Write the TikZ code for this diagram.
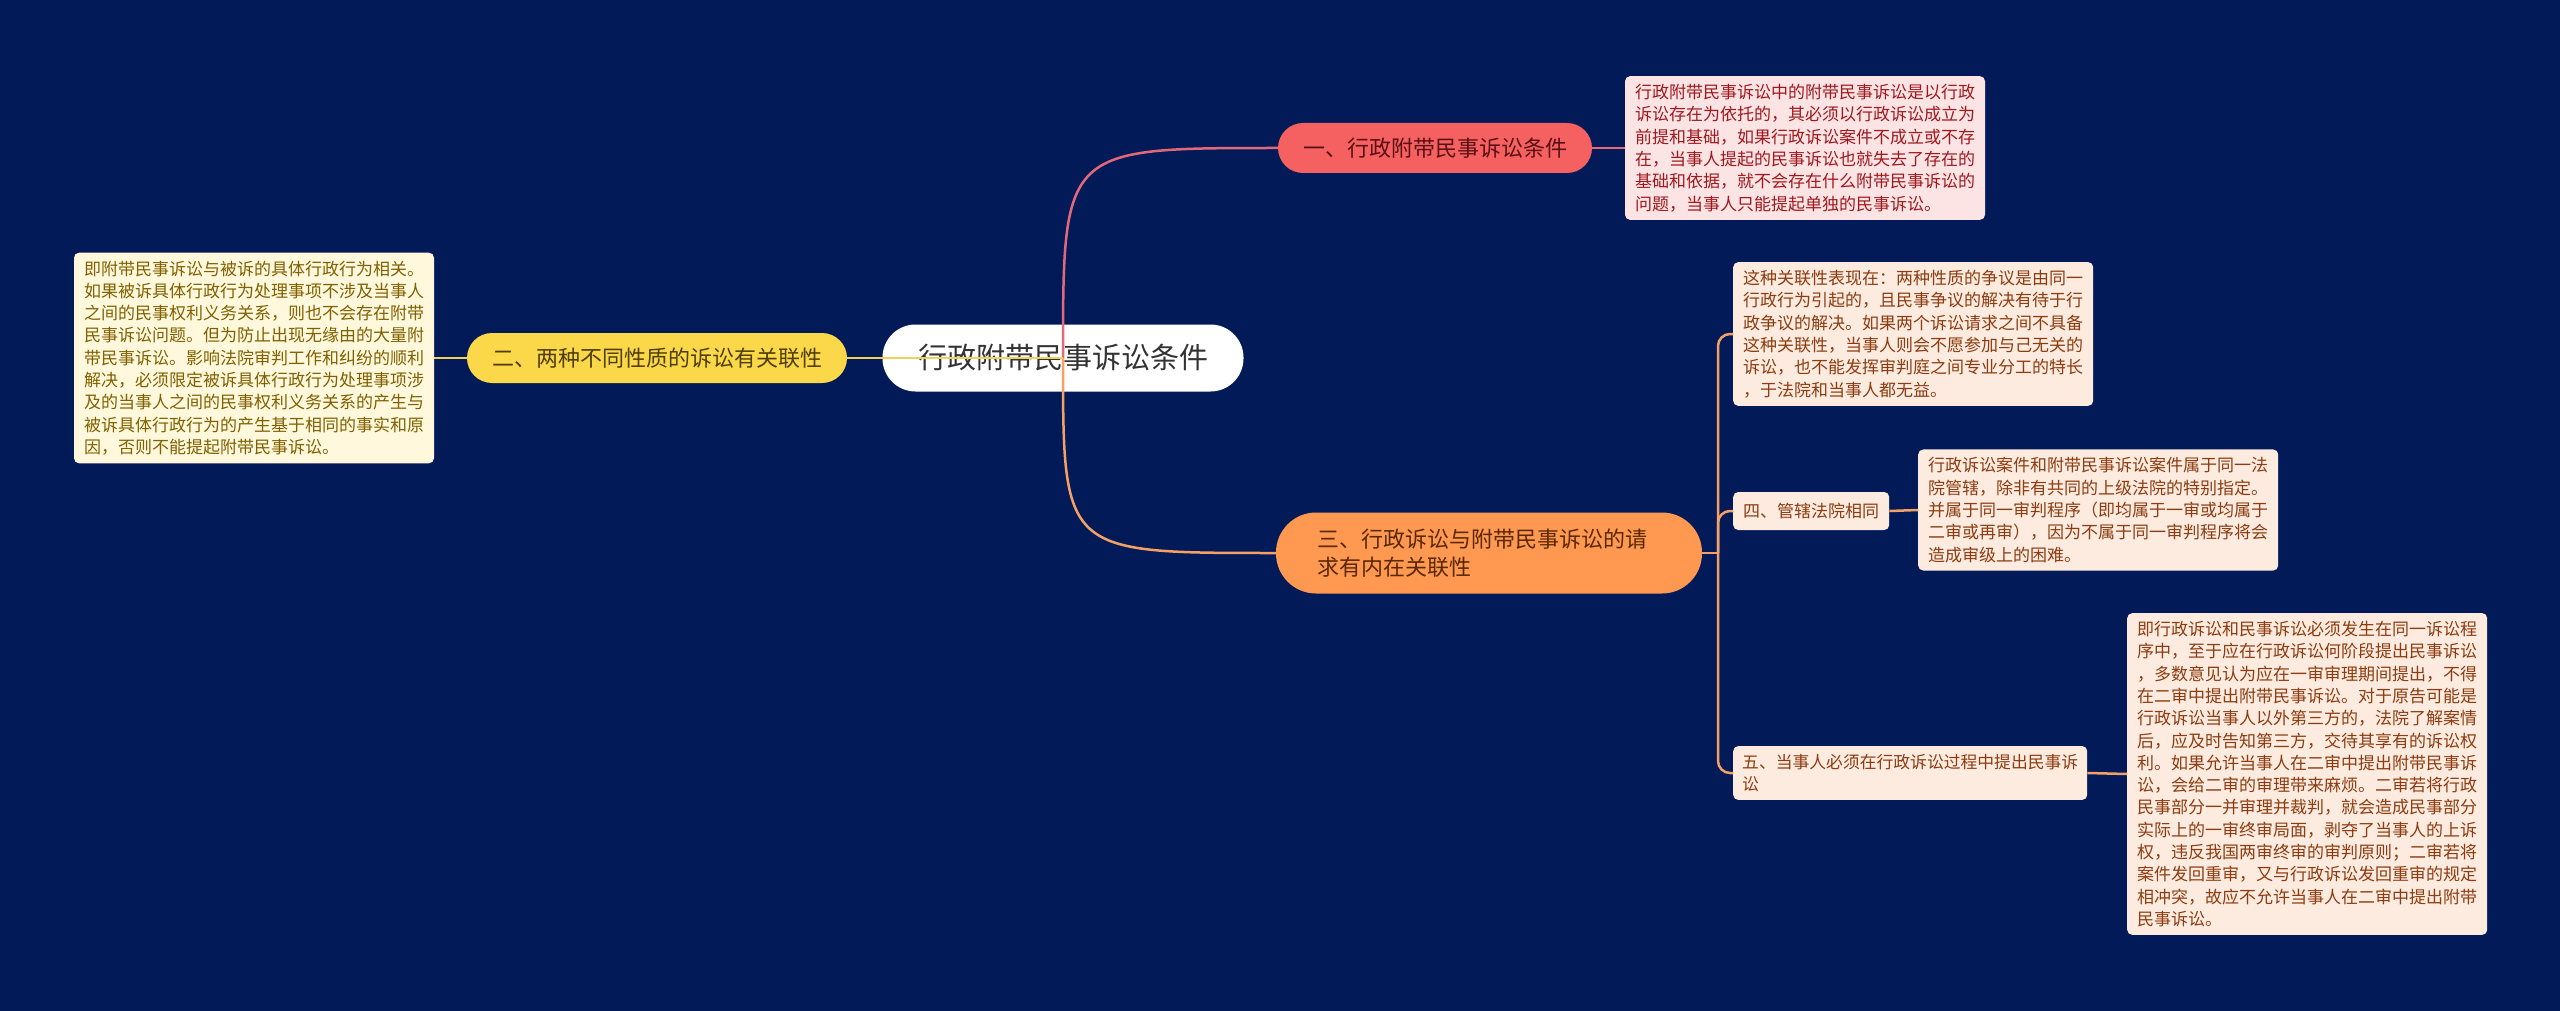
\documentclass[tikz,border=0pt]{standalone}
\usepackage{fontspec}
\setmainfont{Noto Sans CJK SC}
\definecolor{bgblue}{RGB}{2,27,88}
\definecolor{redfill}{RGB}{245,97,96}
\definecolor{redtext}{RGB}{90,16,20}
\definecolor{redline}{RGB}{226,104,122}
\definecolor{redleaf}{RGB}{252,228,228}
\definecolor{redleaftext}{RGB}{160,24,30}
\definecolor{yelfill}{RGB}{250,216,74}
\definecolor{yeltext}{RGB}{80,62,0}
\definecolor{yelline}{RGB}{240,210,90}
\definecolor{yelleaf}{RGB}{255,248,220}
\definecolor{yelleaftext}{RGB}{128,96,0}
\definecolor{orafill}{RGB}{255,152,80}
\definecolor{oratext}{RGB}{90,40,0}
\definecolor{oraline}{RGB}{245,160,100}
\definecolor{oraleaf}{RGB}{253,235,224}
\definecolor{oraleaftext}{RGB}{140,60,16}
\tikzstyle{rootnode}=[rectangle,rounded corners=33pt,fill=white,text=black!80,font=\fontsize{29}{34}\selectfont,minimum width=361pt,minimum height=67pt]
\tikzstyle{branch}=[rectangle,rounded corners=25pt,font=\fontsize{22}{28}\selectfont,minimum height=50pt,inner xsep=25pt]
\tikzstyle{leaf}=[rectangle,rounded corners=5pt,font=\fontsize{17}{22.3}\selectfont,align=left,inner xsep=10pt,inner ysep=8pt]
\tikzstyle{edge}=[draw,line width=2.5pt]

\begin{document}
\begin{tikzpicture}[x=1pt,y=-1pt]
	\useasboundingbox (0,0) rectangle (2560,1011);
	\fill[bgblue] (0,0) rectangle (2560,1011);

	% First the centre and the three main branches
	\node[rootnode] (root) at (1063,358) {行政附带民事诉讼条件};
	\node[branch,fill=redfill,text=redtext] (b1) at (1435,148) {一、行政附带民事诉讼条件};
	\node[branch,fill=yelfill,text=yeltext] (b2) at (657,358) {二、两种不同性质的诉讼有关联性};
	\node[branch,fill=orafill,text=oratext,rounded corners=40pt,align=left,text width=344pt,inner xsep=41pt,minimum height=81pt] (b3) at (1489,553)
		{三、行政诉讼与附带民事诉讼的请\\求有内在关联性};

	% Then the texts hanging on them
	\node[leaf,fill=redleaf,text=redleaftext] (d1) at (1805,148) {行政附带民事诉讼中的附带民事诉讼是以行政\\诉讼存在为依托的，其必须以行政诉讼成立为\\前提和基础，如果行政诉讼案件不成立或不存\\在，当事人提起的民事诉讼也就失去了存在的\\基础和依据，就不会存在什么附带民事诉讼的\\问题，当事人只能提起单独的民事诉讼。};
	\node[leaf,fill=yelleaf,text=yelleaftext] (d2) at (254,358) {即附带民事诉讼与被诉的具体行政行为相关。\\如果被诉具体行政行为处理事项不涉及当事人\\之间的民事权利义务关系，则也不会存在附带\\民事诉讼问题。但为防止出现无缘由的大量附\\带民事诉讼。影响法院审判工作和纠纷的顺利\\解决，必须限定被诉具体行政行为处理事项涉\\及的当事人之间的民事权利义务关系的产生与\\被诉具体行政行为的产生基于相同的事实和原\\因，否则不能提起附带民事诉讼。};
	\node[leaf,fill=oraleaf,text=oraleaftext,anchor=west] (c1) at (1733,334) {这种关联性表现在：两种性质的争议是由同一\\行政行为引起的，且民事争议的解决有待于行\\政争议的解决。如果两个诉讼请求之间不具备\\这种关联性，当事人则会不愿参加与己无关的\\诉讼，也不能发挥审判庭之间专业分工的特长\\，于法院和当事人都无益。};
	\node[leaf,fill=oraleaf,text=oraleaftext,anchor=west,minimum height=38pt] (c2) at (1733,511) {四、管辖法院相同};
	\node[leaf,fill=oraleaf,text=oraleaftext,anchor=west] (d4) at (1918,510) {行政诉讼案件和附带民事诉讼案件属于同一法\\院管辖，除非有共同的上级法院的特别指定。\\并属于同一审判程序（即均属于一审或均属于\\二审或再审），因为不属于同一审判程序将会\\造成审级上的困难。};
	\node[leaf,fill=oraleaf,text=oraleaftext,anchor=west,font=\fontsize{16.8}{22.3}\selectfont,inner xsep=9pt] (c3) at (1733,773) {五、当事人必须在行政诉讼过程中提出民事诉\\讼};
	\node[leaf,fill=oraleaf,text=oraleaftext,anchor=west] (d5) at (2127,774) {即行政诉讼和民事诉讼必须发生在同一诉讼程\\序中，至于应在行政诉讼何阶段提出民事诉讼\\，多数意见认为应在一审审理期间提出，不得\\在二审中提出附带民事诉讼。对于原告可能是\\行政诉讼当事人以外第三方的，法院了解案情\\后，应及时告知第三方，交待其享有的诉讼权\\利。如果允许当事人在二审中提出附带民事诉\\讼，会给二审的审理带来麻烦。二审若将行政\\民事部分一并审理并裁判，就会造成民事部分\\实际上的一审终审局面，剥夺了当事人的上诉\\权，违反我国两审终审的审判原则；二审若将\\案件发回重审，又与行政诉讼发回重审的规定\\相冲突，故应不允许当事人在二审中提出附带\\民事诉讼。};

	% Connect everything
	\path[edge,redline] (root.center) .. controls (root.center |- b1.west) .. (b1.west);
	\path[edge,oraline] (root.center) .. controls (root.center |- b3.west) .. (b3.west);
	\path[edge,yelline] (root.center) -- (b2.east);
	\path[edge,redline] (b1.east) -- (d1.west);
	\path[edge,yelline] (b2.west) -- (d2.east);

	\coordinate (jn) at (1718,553);
	\path[edge,oraline] (b3.east) -- (jn);
	\foreach \dest in {c1,c2,c3}
		\path[edge,oraline,rounded corners=12pt] (jn) |- (\dest.west);
	\path[edge,oraline] (c2.east) -- (d4.west);
	\path[edge,oraline] (c3.east) -- (d5.west);
\end{tikzpicture}
\end{document}
